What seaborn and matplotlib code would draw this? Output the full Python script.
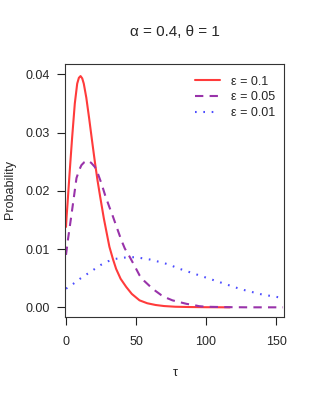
import numpy as np
import pandas as pd
import matplotlib
matplotlib.use("Agg")
import matplotlib.pyplot as plt
import seaborn as sns

# ----------------------------
# Data
# ----------------------------
tau_red = [0, 0.5, 1.1, 2.7, 4.4, 6.3, 8, 9.2, 10.4, 11.6, 12.7, 14.5, 16.5, 18.5,
           20.6, 22.5, 24.4, 27, 29.6, 31, 33.5, 35.8, 39, 43, 47, 52.5, 58, 64,
           70, 78, 88, 100, 117]
p_red = [0.0138, 0.0158, 0.0178, 0.0235, 0.0292, 0.0350, 0.0384, 0.0394, 0.0397,
         0.0393, 0.0384, 0.0360, 0.0325, 0.0288, 0.0250, 0.0218, 0.0190, 0.0153,
         0.0121, 0.0104, 0.0083, 0.0066, 0.0049, 0.0035, 0.0023, 0.0012, 0.0007,
         0.0004, 0.00022, 0.0001, 0.00005, 0.00002, 0.0]

tau_purple = [0, 1.5, 3.5, 5, 7.5, 9.5, 11, 13, 15.4, 18, 20.6, 23, 25.4, 28, 31,
              33.5, 36, 39.4, 42, 45.4, 49, 52.5, 56, 60, 64, 68, 72, 76, 81, 86,
              91, 95, 100, 110, 120, 130, 155]
p_purple = [0.0090, 0.0118, 0.0152, 0.0178, 0.0222, 0.0236, 0.0244, 0.0249, 0.0252,
            0.0248, 0.0241, 0.0228, 0.0212, 0.0192, 0.0172, 0.0156, 0.0139, 0.0116,
            0.0101, 0.0087, 0.0071, 0.0055, 0.0045, 0.0036, 0.0028, 0.0021, 0.0016,
            0.0012, 0.0009, 0.0006, 0.0004, 0.0002, 0.0001, 0.00005, 0.00002, 0.0, 0.0]

tau_blue = [0, 5, 10, 15, 20, 25, 30, 35, 40, 45, 50, 55, 60, 65, 70, 75, 80, 85,
            90, 95, 100, 105, 110, 115, 120, 125, 130, 135, 140, 145, 150, 155]
p_blue = [0.0032, 0.0040, 0.0049, 0.0057, 0.0065, 0.0073, 0.0079, 0.0083, 0.0085,
          0.0086, 0.0086, 0.0084, 0.0082, 0.0079, 0.0076, 0.0072, 0.0067, 0.0063,
          0.0059, 0.0055, 0.0051, 0.0047, 0.0043, 0.0039, 0.0035, 0.0031, 0.0028,
          0.0025, 0.0022, 0.0020, 0.0018, 0.0016]

labels = ["\u03b5 = 0.1", "\u03b5 = 0.05", "\u03b5 = 0.01"]
colors = ["#FF3B3B", "#9933AA", "#4D4DFF"]

x_ticks = [0, 50, 100, 150]
y_ticks = [0.00, 0.01, 0.02, 0.03, 0.04]

# ----------------------------
# Style
# ----------------------------
sns.set_style("ticks")
plt.rcParams["font.family"] = ["Liberation Sans", "DejaVu Sans"]
plt.rcParams["axes.edgecolor"] = "#333333"
plt.rcParams["axes.linewidth"] = 0.8

fig = plt.figure(figsize=(3.18, 3.98), dpi=100)
ax = fig.add_axes([65 / 318, 1 - 316.7 / 398, (284.3 - 65) / 318, (316.7 - 64.3) / 398])

sns.lineplot(x=tau_red, y=p_red, color=colors[0], linewidth=1.5, ax=ax, label=labels[0])
sns.lineplot(x=tau_purple, y=p_purple, color=colors[1], linewidth=1.5, ax=ax,
             label=labels[1], linestyle=(0, (4, 3)))
sns.lineplot(x=tau_blue, y=p_blue, color=colors[2], linewidth=1.5, ax=ax,
             label=labels[2], linestyle=(0, (0.8, 3.2)))

ax.set_xlim(-0.71, 155.9)
ax.set_ylim(-0.00161, 0.04172)
ax.set_xticks(x_ticks)
ax.set_xticklabels([str(t) for t in x_ticks])
ax.set_yticks(y_ticks)
ax.set_yticklabels([f"{t:.2f}" for t in y_ticks])
ax.tick_params(axis="both", labelsize=9, length=6, width=0.8, color="#222222")
ax.tick_params(axis="y", pad=5)
ax.tick_params(axis="x", pad=8)
ax.set_xlabel("")
ax.set_ylabel("")
for s in ax.spines.values():
    s.set_visible(True)

ax.legend(loc="upper right", frameon=False, fontsize=9, handlelength=2.0,
          handletextpad=0.9, labelspacing=0.3, borderaxespad=0.3,
          bbox_to_anchor=(1.0, 0.99))

fig.text(175 / 318, 1 - 32 / 398, "\u03b1 = 0.4, \u03b8 = 1", ha="center", va="center", fontsize=11)
fig.text(175 / 318, 1 - 373 / 398, "\u03c4", ha="center", va="center", fontsize=9)
fig.text(10 / 318, 1 - 190 / 398, "Probability", ha="center", va="center", rotation=90, fontsize=9)

plt.savefig("out.png", dpi=100)
plt.close()
